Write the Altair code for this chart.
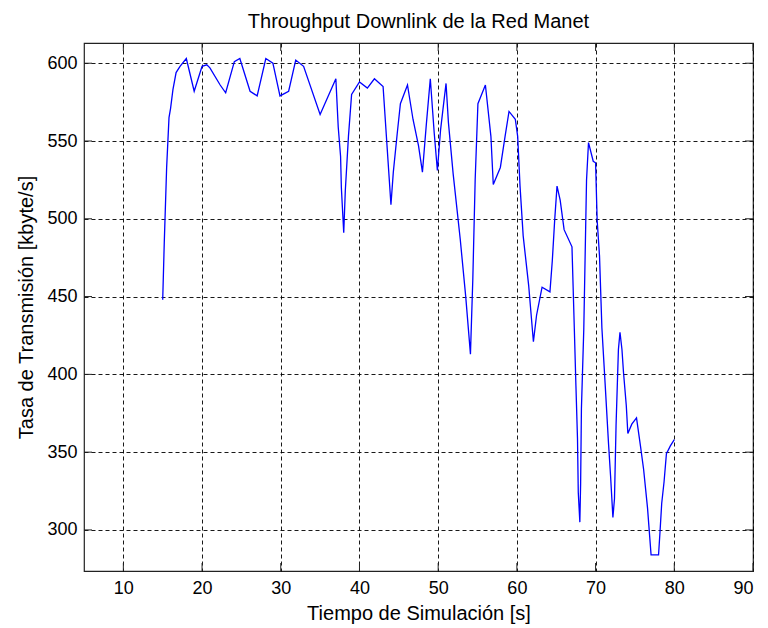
import altair as alt
import pandas as pd

# Simulation time [s]
time_s = [15.0, 15.2, 15.5, 15.8, 16.0, 16.3, 16.7, 17.2, 18.0, 19.0, 20.0, 20.6, 21.0,
          22.3, 23.0, 24.1, 24.8, 26.1, 27.0, 28.1, 29.0, 29.9, 31.0, 31.9, 32.9, 35.0,
          37.0, 37.3, 37.6, 37.7, 38.0, 38.2, 38.6, 39.0, 40.0, 41.0, 41.9, 43.0, 43.5,
          44.0, 44.3, 44.8, 45.2, 46.1, 46.8, 47.5, 48.0, 48.5, 49.0, 49.5, 49.9, 50.3,
          50.6, 51.0, 51.3, 51.9, 52.8, 53.5, 54.1, 54.4, 54.7, 55.05, 56.0, 56.7, 57.0,
          57.9, 58.5, 59.0, 59.8, 60.1, 60.4, 60.8, 61.5, 62.1, 62.5, 63.0, 63.2, 64.2,
          64.5, 64.8, 65.1, 65.5, 66.0, 67.0, 67.3, 67.5, 67.7, 67.8, 68.0, 68.1, 68.2,
          68.5, 68.85, 69.1, 69.7, 70.0, 70.2, 70.5, 70.8, 71.2, 71.65, 71.9, 72.2, 72.4,
          72.6, 72.9, 73.1, 73.35, 73.55, 73.9, 74.1, 74.6, 75.2, 75.7, 76.1, 76.6, 77.05,
          78.0, 78.2, 78.4, 78.7, 79.0, 79.5, 80.0]
# Throughput [kbyte/s]
rate = [448, 485, 533, 565, 571, 583, 594, 598, 603, 582, 598, 599, 597,
        586, 581, 601, 603, 582, 579, 603, 600, 579, 582, 602, 598, 567,
        590, 559, 540, 520, 491, 518, 553, 580, 588, 584, 590, 585, 547,
        509, 530, 555, 574, 586, 564, 547, 530, 561, 590, 555, 531, 557,
        570, 587, 562, 529, 487, 450, 413, 461, 525, 574, 586, 553, 522,
        533, 553, 569, 564, 553, 521, 489, 457, 421, 438, 451, 456, 453,
        473, 499, 521, 512, 493, 482, 429, 393, 359, 324, 305, 330, 378,
        429, 525, 549, 537, 536, 499, 476, 430, 395, 355, 335, 308, 320,
        367, 416, 427, 416, 401, 380, 362, 368, 372, 354, 339, 314, 284,
        284, 300, 317, 331, 349, 354, 358]

x_ticks = [10, 20, 30, 40, 50, 60, 70, 80, 90]
y_ticks = [300, 350, 400, 450, 500, 550, 600]

df = pd.DataFrame({"t": time_s, "r": rate})
xt = pd.DataFrame({"t": x_ticks})
yt = pd.DataFrame({"r": y_ticks})

W, H = 669, 528
TL = 8
FONT = "Liberation Sans"
INK = "#222222"

xs = alt.Scale(domain=[5, 90], nice=False, zero=False)
ys = alt.Scale(domain=[273.6, 613], nice=False, zero=False)

line = alt.Chart(df).mark_line(color="#0000FF", strokeWidth=1.3).encode(
    x=alt.X("t:Q", scale=xs,
            axis=alt.Axis(values=x_ticks, title="Tiempo de Simulación [s]",
                          labelPadding=8, titlePadding=6)),
    y=alt.Y("r:Q", scale=ys,
            axis=alt.Axis(values=y_ticks, title="Tasa de Transmisión [kbyte/s]",
                          labelPadding=7, titlePadding=10)),
)

tick_bottom = alt.Chart(xt).mark_rule(color=INK, strokeWidth=1).encode(
    x=alt.X("t:Q", scale=xs), y=alt.value(H), y2=alt.value(H - TL))
tick_top = alt.Chart(xt).mark_rule(color=INK, strokeWidth=1).encode(
    x=alt.X("t:Q", scale=xs), y=alt.value(0), y2=alt.value(TL))
tick_left = alt.Chart(yt).mark_rule(color=INK, strokeWidth=1).encode(
    y=alt.Y("r:Q", scale=ys), x=alt.value(0), x2=alt.value(TL))
tick_right = alt.Chart(yt).mark_rule(color=INK, strokeWidth=1).encode(
    y=alt.Y("r:Q", scale=ys), x=alt.value(W), x2=alt.value(W - TL))

chart = alt.layer(line, tick_bottom, tick_top, tick_left, tick_right).properties(
    width=W, height=H,
    title=alt.TitleParams("Throughput Downlink de la Red Manet", font=FONT,
                          fontSize=20, fontWeight="normal", color="#000000",
                          anchor="middle", offset=11),
    autosize=alt.AutoSizeParams(type="none"),
    padding={"left": 84, "top": 43, "right": 15, "bottom": 57},
    background="white",
).configure_axis(
    labelFont=FONT, labelFontSize=18, labelColor="#000000",
    titleFont=FONT, titleFontSize=20, titleFontWeight="normal", titleColor="#000000",
    grid=True, gridColor="#000000", gridDash=[4, 3], gridOpacity=0.9, gridWidth=1,
    domain=False, ticks=False,
).configure_view(stroke=INK, strokeWidth=1.2)

chart.save("out.html", embed_options={"renderer": "svg", "actions": False})
